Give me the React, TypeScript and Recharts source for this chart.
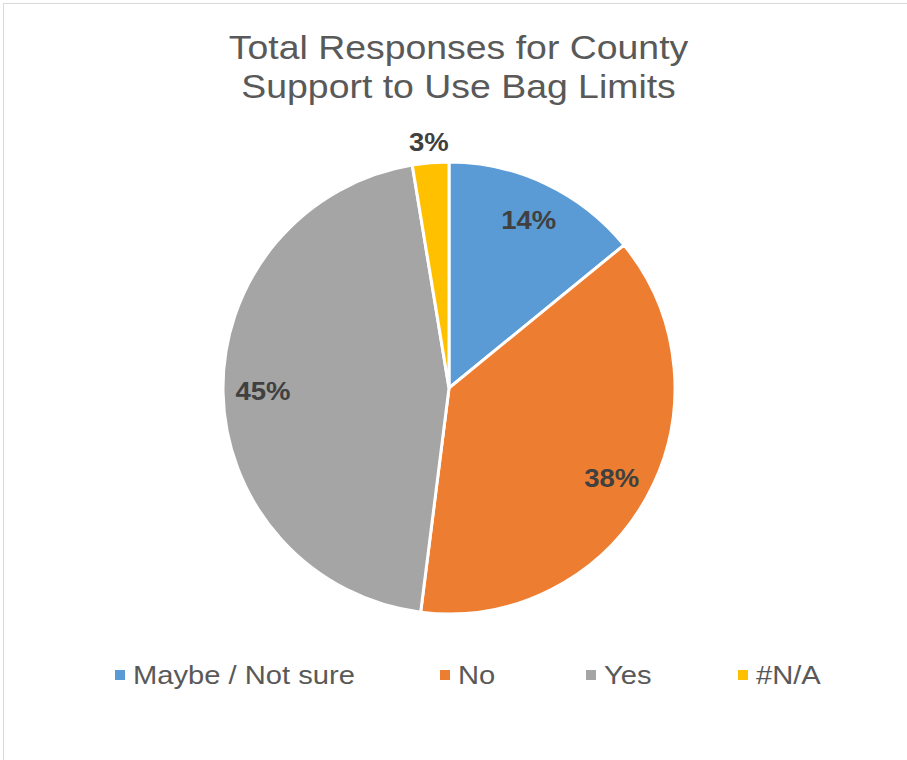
import React from "react";
import { PieChart, Pie, Cell } from "recharts";

const categories = ["Maybe / Not sure", "No", "Yes", "#N/A"];
const values = [14.1, 37.9, 45.4, 2.6];
const labels = ["14%", "38%", "45%", "3%"];
const colors = ["#5B9BD5", "#ED7D31", "#A5A5A5", "#FFC000"];

const data = categories.map((name, i) => ({ name, value: values[i], label: labels[i] }));

const FONT = "'Liberation Sans', Arial, sans-serif";
const RAD = Math.PI / 180;
const STRETCH = 1.1;
const legendX = [115, 440, 586, 738];

const renderLabel = (props: any) => {
  const { cx, cy, midAngle, outerRadius, index, percent } = props;
  const r = percent < 0.05 ? outerRadius + 20 : outerRadius * 0.823;
  const x = cx + r * Math.cos(-midAngle * RAD);
  const y = cy + r * Math.sin(-midAngle * RAD);
  return (
    <text
      x={0}
      y={0}
      transform={`translate(${x},${y}) scale(${STRETCH},1)`}
      textAnchor="middle"
      dominantBaseline="central"
      fill="#404040"
      fontFamily={FONT}
      fontWeight="bold"
      fontSize={25}
    >
      {data[index].label}
    </text>
  );
};

export default function App() {
  return (
    <div style={{ position: "absolute", left: 0, top: 0, width: 907, height: 760, overflow: "hidden", background: "#fff" }}>
      <div
        style={{
          position: "absolute",
          left: 3,
          top: 3,
          width: 960,
          height: 820,
          border: "1.5px solid #d9d9d9",
          boxSizing: "border-box",
        }}
      />
      <div
        style={{
          position: "absolute",
          left: 5,
          top: 28,
          width: 907,
          textAlign: "center",
          fontFamily: FONT,
          fontSize: 34,
          lineHeight: "39px",
          color: "#595959",
          transform: "scaleX(1.1)",
          transformOrigin: "453px 0",
        }}
      >
        Total Responses for County
        <br />
        Support to Use Bag Limits
      </div>
      <div style={{ position: "absolute", left: 0, top: 0 }}>
        <PieChart width={907} height={760} margin={{ top: 0, right: 0, bottom: 0, left: 0 }}>
          <Pie
            data={data}
            dataKey="value"
            nameKey="name"
            cx={449}
            cy={388}
            outerRadius={226}
            startAngle={90}
            endAngle={-270}
            stroke="#ffffff"
            strokeWidth={3}
            label={renderLabel}
            labelLine={false}
            isAnimationActive={false}
          >
            {data.map((d, i) => (
              <Cell key={d.name} fill={colors[i]} />
            ))}
          </Pie>
        </PieChart>
      </div>
      {categories.map((c, i) => (
        <div
          key={c}
          style={{
            position: "absolute",
            top: 660,
            left: legendX[i],
            display: "flex",
            alignItems: "center",
            fontFamily: FONT,
            fontSize: 26.5,
            lineHeight: "30px",
            color: "#595959",
            whiteSpace: "nowrap",
          }}
        >
          <span style={{ display: "inline-block", width: 10, height: 10, background: colors[i], marginRight: 8 }} />
          <span style={{ display: "inline-block", transform: `scaleX(${STRETCH})`, transformOrigin: "0 0" }}>{c}</span>
        </div>
      ))}
    </div>
  );
}
